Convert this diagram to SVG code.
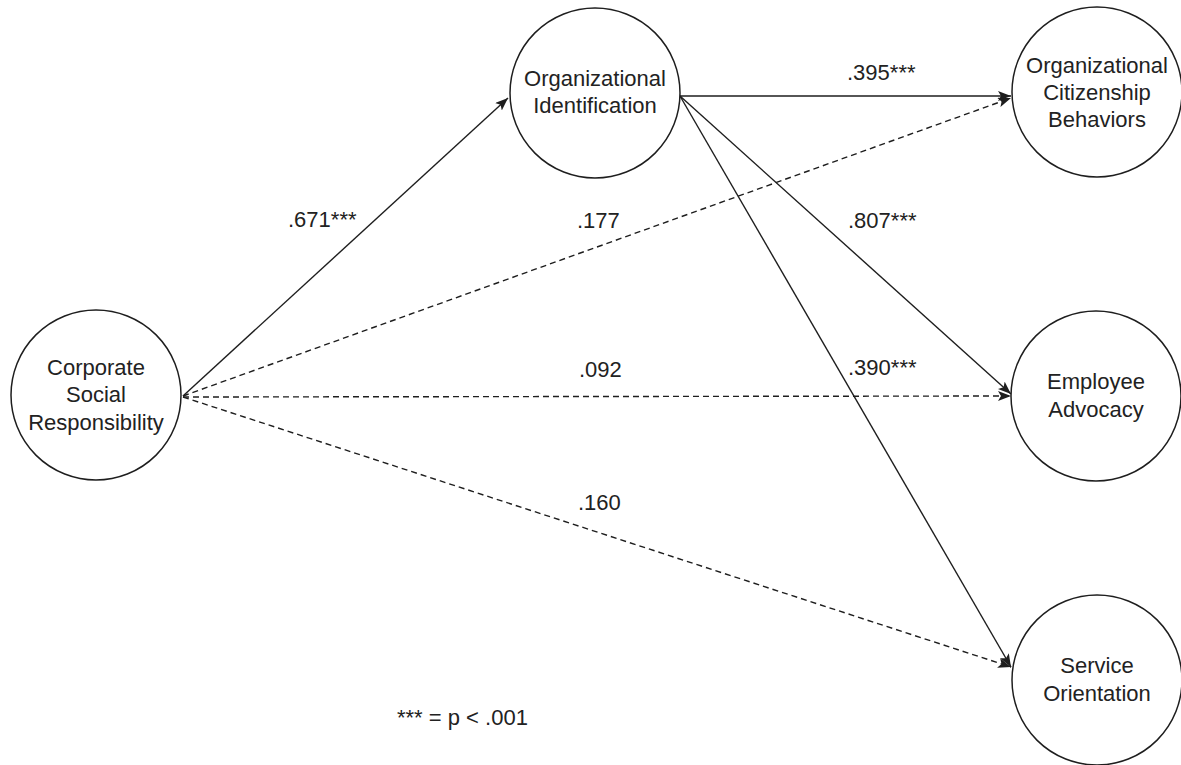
<svg xmlns="http://www.w3.org/2000/svg" width="1181" height="765" viewBox="0 0 1181 765">
<style>
.node{fill:#fff;stroke:#1e1e1e;stroke-width:1.5}
.lbl{font-family:"Liberation Sans",Arial,sans-serif;font-size:22px;fill:#222;text-anchor:middle}
.el{font-family:"Liberation Sans",Arial,sans-serif;font-size:22px;fill:#222}
.c{fill:none;stroke:#1e1e1e;stroke-width:1.4;marker-end:url(#arr)}
.d{stroke-dasharray:6 4}
</style>
<defs>
<marker id="arr" markerUnits="userSpaceOnUse" markerWidth="14" markerHeight="11" refX="13" refY="5" orient="auto">
<path d="M0,0 L13,5 L0,10 L3,5 Z" fill="#1e1e1e"/>
</marker>
</defs>
<rect width="1181" height="765" fill="#fff"/>
<g id="connectors">
<path class="c" d="M183,396 L508,98"/>
<path class="c d" d="M183,396 L1011,98"/>
<path class="c d" d="M183,397 L1011,396"/>
<path class="c d" d="M183,397 L1011,667"/>
<path class="c" d="M680,96 L1011,96"/>
<path class="c" d="M680,96 L1011,394"/>
<path class="c" d="M680,96 L1011,667"/>
</g>
<g id="csr"><circle class="node" cx="96" cy="395" r="85"/>
<text class="lbl" x="96" y="375">Corporate</text><text class="lbl" x="96" y="402">Social</text><text class="lbl" x="96" y="430">Responsibility</text></g>
<g id="oi"><circle class="node" cx="595" cy="93" r="85"/>
<text class="lbl" x="595" y="86">Organizational</text><text class="lbl" x="595" y="113">Identification</text></g>
<g id="ocb"><circle class="node" cx="1097" cy="92" r="85"/>
<text class="lbl" x="1097" y="73">Organizational</text><text class="lbl" x="1097" y="100">Citizenship</text><text class="lbl" x="1097" y="127">Behaviors</text></g>
<g id="ea"><circle class="node" cx="1096" cy="396" r="85"/>
<text class="lbl" x="1096" y="389">Employee</text><text class="lbl" x="1096" y="417">Advocacy</text></g>
<g id="so"><circle class="node" cx="1097" cy="680" r="85"/>
<text class="lbl" x="1097" y="673">Service</text><text class="lbl" x="1097" y="701">Orientation</text></g>
<g id="labels">
<text class="el" x="288" y="227">.671***</text>
<text class="el" x="577" y="228">.177</text>
<text class="el" x="847" y="80">.395***</text>
<text class="el" x="848" y="228">.807***</text>
<text class="el" x="848" y="375">.390***</text>
<text class="el" x="579" y="377">.092</text>
<text class="el" x="578" y="510">.160</text>
<text class="el" x="397" y="725">*** = p &lt; .001</text>
</g>
</svg>
